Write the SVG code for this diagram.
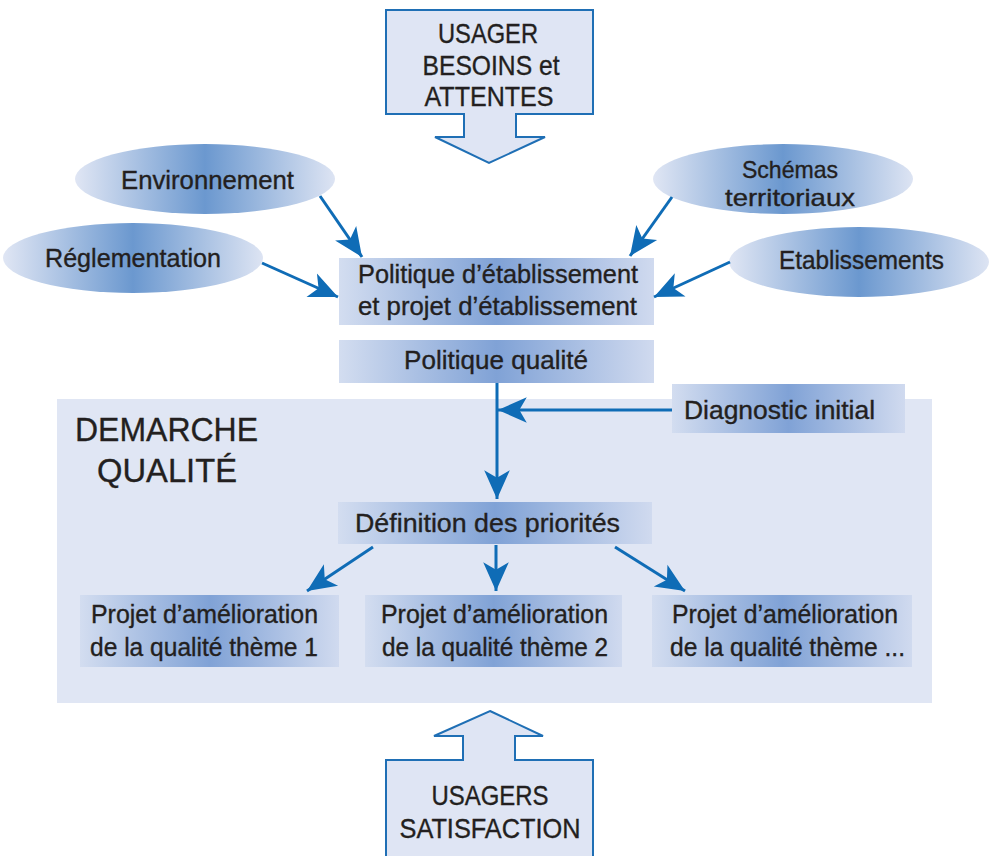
<svg xmlns="http://www.w3.org/2000/svg" width="990" height="856" viewBox="0 0 990 856">
<defs>
<linearGradient id="ge" x1="0" y1="0" x2="1" y2="0">
<stop offset="0" stop-color="#e0e6f4"/>
<stop offset="0.5" stop-color="#6b98cf"/>
<stop offset="1" stop-color="#dde4f3"/>
</linearGradient>
<linearGradient id="gr" x1="0" y1="0" x2="1" y2="0">
<stop offset="0" stop-color="#d3ddf0"/>
<stop offset="0.5" stop-color="#80a2d6"/>
<stop offset="1" stop-color="#d0daef"/>
</linearGradient>
<marker id="ah" markerUnits="userSpaceOnUse" markerWidth="32" markerHeight="32" viewBox="-28 -14 30 28" refX="0" refY="0" orient="auto">
<path d="M0,0 L-27,-12 L-20,0 L-27,12 Z" fill="#0f6cb6"/>
</marker>
</defs>
<style>
text{font-family:"Liberation Sans",Arial,sans-serif;fill:#231f20;stroke:#231f20;stroke-width:0.35px;text-anchor:middle;font-size:25px}
.big{font-size:28px}
.title{font-size:34px}
.ell{fill:url(#ge)}
.box{fill:url(#gr)}
.bigarrow{fill:#dfe5f4;stroke:#1f6fb5;stroke-width:2}
.conn line{stroke:#0f6cb6;stroke-width:3;marker-end:url(#ah)}
</style>
<rect id="demarche-zone" x="57" y="399" width="875" height="304" fill="#e0e6f4"/>
<g id="demarche-label">
<text class="title" x="166.5" y="441" textLength="183" lengthAdjust="spacingAndGlyphs">DEMARCHE</text>
<text class="title" x="167" y="482" textLength="140" lengthAdjust="spacingAndGlyphs">QUALITÉ</text>
</g>
<g id="usager">
<path class="bigarrow" d="M386,10 L593,10 L593,114 L516,114 L516,137 L545,137 L489,163 L435,137 L464,137 L464,114 L386,114 Z"/>
<text class="big" x="488" y="43" textLength="100" lengthAdjust="spacingAndGlyphs">USAGER</text>
<text class="big" x="491" y="75" textLength="137" lengthAdjust="spacingAndGlyphs">BESOINS et</text>
<text class="big" x="489" y="106" textLength="129" lengthAdjust="spacingAndGlyphs">ATTENTES</text>
</g>
<g id="usagers">
<path class="bigarrow" d="M490,711 L543,736 L515,736 L515,760 L593,760 L593,862 L386,862 L386,760 L463,760 L463,736 L434,736 Z"/>
<text class="big" x="490" y="805" textLength="117" lengthAdjust="spacingAndGlyphs">USAGERS</text>
<text class="big" x="490" y="838" textLength="181" lengthAdjust="spacingAndGlyphs">SATISFACTION</text>
</g>
<g id="environnement">
<ellipse class="ell" cx="205" cy="179" rx="130" ry="35"/>
<text x="207.5" y="189" textLength="173" lengthAdjust="spacingAndGlyphs">Environnement</text>
</g>
<g id="reglementation">
<ellipse class="ell" cx="133" cy="258" rx="130" ry="35"/>
<text x="133" y="267" textLength="176" lengthAdjust="spacingAndGlyphs">Réglementation</text>
</g>
<g id="schemas">
<ellipse class="ell" cx="783" cy="179" rx="130" ry="35"/>
<text x="790" y="178" style="font-size:24px" textLength="96" lengthAdjust="spacingAndGlyphs">Schémas</text>
<text x="790" y="206" style="font-size:24px" textLength="130" lengthAdjust="spacingAndGlyphs">territoriaux</text>
</g>
<g id="etablissements">
<ellipse class="ell" cx="859" cy="262" rx="130" ry="35"/>
<text x="861.5" y="269" textLength="165" lengthAdjust="spacingAndGlyphs">Etablissements</text>
</g>
<g id="politique-etablissement">
<rect class="box" x="339" y="258" width="315" height="67"/>
<text x="498" y="283" textLength="280" lengthAdjust="spacingAndGlyphs">Politique d’établissement</text>
<text x="497.5" y="315" textLength="279" lengthAdjust="spacingAndGlyphs">et projet d’établissement</text>
</g>
<g id="politique-qualite">
<rect class="box" x="339" y="340" width="315" height="43"/>
<text x="496" y="369" textLength="184" lengthAdjust="spacingAndGlyphs">Politique qualité</text>
</g>
<g id="diagnostic">
<rect class="box" x="672" y="384" width="233" height="49"/>
<text x="779.5" y="419" textLength="191" lengthAdjust="spacingAndGlyphs">Diagnostic initial</text>
</g>
<g id="definition">
<rect class="box" x="338" y="502" width="314" height="42"/>
<text x="487.5" y="532" textLength="265" lengthAdjust="spacingAndGlyphs">Définition des priorités</text>
</g>
<g id="projet1">
<rect class="box" x="80" y="595" width="259" height="72"/>
<text x="204.5" y="623" textLength="227" lengthAdjust="spacingAndGlyphs">Projet d’amélioration</text>
<text x="204" y="656" textLength="228" lengthAdjust="spacingAndGlyphs">de la qualité thème 1</text>
</g>
<g id="projet2">
<rect class="box" x="365" y="595" width="257" height="72"/>
<text x="494.5" y="623" textLength="227" lengthAdjust="spacingAndGlyphs">Projet d’amélioration</text>
<text x="495" y="656" textLength="226" lengthAdjust="spacingAndGlyphs">de la qualité thème 2</text>
</g>
<g id="projet3">
<rect class="box" x="652" y="595" width="260" height="72"/>
<text x="785" y="623" textLength="226" lengthAdjust="spacingAndGlyphs">Projet d’amélioration</text>
<text x="787.5" y="656" textLength="235" lengthAdjust="spacingAndGlyphs">de la qualité thème ...</text>
</g>
<g id="connectors" class="conn">
<line x1="320" y1="196" x2="362" y2="257"/>
<line x1="262" y1="263" x2="338" y2="297"/>
<line x1="672" y1="197" x2="630" y2="256"/>
<line x1="730" y1="262" x2="654" y2="297"/>
<line x1="497" y1="383" x2="497" y2="499"/>
<line x1="672" y1="410" x2="498" y2="410"/>
<line x1="373" y1="547" x2="307" y2="591"/>
<line x1="496" y1="545" x2="496" y2="591"/>
<line x1="615" y1="547" x2="685" y2="591"/>
</g>
</svg>
